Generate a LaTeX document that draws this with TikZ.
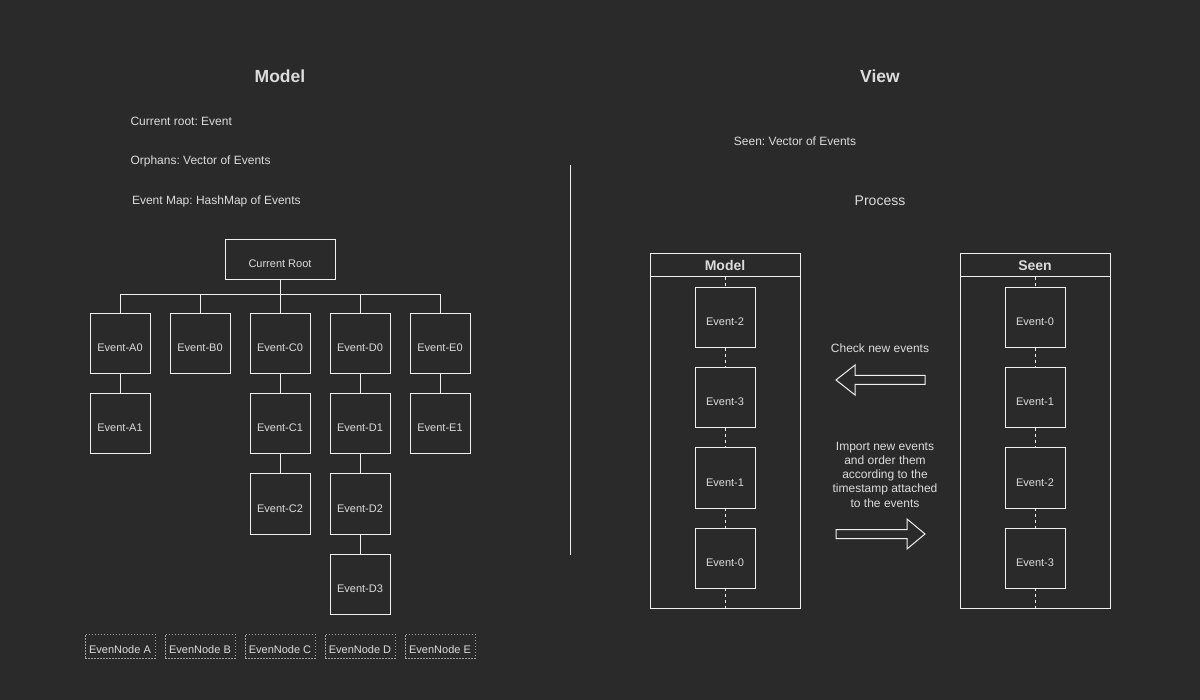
\documentclass[tikz,border=0pt]{standalone}
\usepackage{fontspec}
\setmainfont{Liberation Sans}
\frenchspacing
\usetikzlibrary{positioning}
\definecolor{bgcol}{HTML}{2A2A2A}
\definecolor{txtcol}{HTML}{DCDCDC}
\definecolor{linecol}{HTML}{F0F0F0}
\definecolor{dotcol}{HTML}{A0A0A0}
\begin{document}
\begin{tikzpicture}[
        x=1pt, y=-1pt,
        line width=1pt,
        every node/.style={text=txtcol},
        evt/.style={rectangle, draw=linecol, minimum width=60pt, minimum height=60pt, inner sep=0pt, outer sep=0pt,
            text height=16pt, text depth=0pt, font=\fontsize{11}{13}\selectfont},
        orphan/.style={rectangle, draw=dotcol, dash pattern=on 1.5pt off 1.5pt, minimum width=70pt, minimum height=24pt,
            inner sep=0pt, outer sep=0pt, text height=14pt, text depth=0pt, font=\fontsize{11}{13}\selectfont},
        title/.style={font=\fontsize{17.5}{20}\selectfont\bfseries},
        field/.style={anchor=west, inner sep=0pt, font=\fontsize{12}{14}\selectfont},
        lane/.style={rectangle, draw=linecol, minimum width=150pt, minimum height=354pt, inner sep=0pt, outer sep=0pt},
        lanehead/.style={rectangle, draw=linecol, minimum width=150pt, minimum height=23pt, inner sep=0pt, outer sep=0pt,
            anchor=north, font=\fontsize{14}{16}\selectfont\bfseries},
        link/.style={draw=linecol},
        seq/.style={draw=linecol, dash pattern=on 3pt off 3pt}
    ]
    \fill[bgcol] (0,0) rectangle (1200,700);

    % Titles
    \node [title] (mtitle) at (280,76) {Model};
    \node [title] (vtitle) at (880,76) {View};

    % Model fields
    \node [field] (froot) at (130,121) {Current root: Event};
    \node [field] (forph) at (130,161) {Orphans: Vector of Events};
    \node [field] (fmap) at (131.5,201) {Event Map: HashMap of Events};

    % Tree
    \node [evt, minimum width=110pt, minimum height=40pt] (root) at (280,260) {Current Root};
    \node [evt, below=34pt of root] (c0) {Event-C0};
    \node [evt, left=20pt of c0] (b0) {Event-B0};
    \node [evt, left=20pt of b0] (a0) {Event-A0};
    \node [evt, right=20pt of c0] (d0) {Event-D0};
    \node [evt, right=20pt of d0] (e0) {Event-E0};
    \node [evt, below=20pt of a0] (a1) {Event-A1};
    \node [evt, below=20pt of c0] (c1) {Event-C1};
    \node [evt, below=20pt of c1] (c2) {Event-C2};
    \node [evt, below=20pt of d0] (d1) {Event-D1};
    \node [evt, below=20pt of d1] (d2) {Event-D2};
    \node [evt, below=20pt of d2] (d3) {Event-D3};
    \node [evt, below=20pt of e0] (e1) {Event-E1};
    \coordinate [below=15pt of root.south] (bus);

    % Orphan nodes
    \node [orphan] (ena) at (120,646) {EvenNode A};
    \node [orphan, right=10pt of ena] (enb) {EvenNode B};
    \node [orphan, right=10pt of enb] (enc) {EvenNode C};
    \node [orphan, right=10pt of enc] (end) {EvenNode D};
    \node [orphan, right=10pt of end] (ene) {EvenNode E};

    % Tree connections
    \draw [link] (root.south) -- (bus);
    \foreach \n in {a0,b0,c0,d0,e0}
        \draw [link] (\n.north) |- (bus);
    \draw [link] (a0) -- (a1);
    \draw [link] (c0) -- (c1);
    \draw [link] (c1) -- (c2);
    \draw [link] (d0) -- (d1);
    \draw [link] (d1) -- (d2);
    \draw [link] (d2) -- (d3);
    \draw [link] (e0) -- (e1);

    % Divider
    \coordinate (divtop) at (570,165);
    \coordinate (divbot) at (570,555);
    \draw [link] (divtop) -- (divbot);

    % View
    \node [font=\fontsize{12}{14}\selectfont] (seen) at (795,141) {Seen: Vector of Events};
    \node [font=\fontsize{14}{16}\selectfont] (proc) at (880,201) {Process};

    % Model lane
    \node [lane] (mlane) at (725,431) {};
    \node [lanehead] (mhead) at (mlane.north) {Model};
    \node [evt, below=11pt of mhead] (m2) {Event-2};
    \node [evt, below=20pt of m2] (m3) {Event-3};
    \node [evt, below=20pt of m3] (m1) {Event-1};
    \node [evt, below=20pt of m1] (m0) {Event-0};
    \draw [seq] (mhead) -- (m2);
    \draw [seq] (m2) -- (m3);
    \draw [seq] (m3) -- (m1);
    \draw [seq] (m1) -- (m0);
    \draw [seq] (m0) -- (mlane.south);

    % Seen lane
    \node [lane] (slane) at (1035,431) {};
    \node [lanehead] (shead) at (slane.north) {Seen};
    \node [evt, below=11pt of shead] (s0) {Event-0};
    \node [evt, below=20pt of s0] (s1) {Event-1};
    \node [evt, below=20pt of s1] (s2) {Event-2};
    \node [evt, below=20pt of s2] (s3) {Event-3};
    \draw [seq] (shead) -- (s0);
    \draw [seq] (s0) -- (s1);
    \draw [seq] (s1) -- (s2);
    \draw [seq] (s2) -- (s3);
    \draw [seq] (s3) -- (slane.south);

    % Process arrows
    \node [font=\fontsize{12}{14}\selectfont] (check) at (880,348) {Check new events};
    \draw [link] (925,375.5) -- (855,375.5) -- (855,365) -- (836,380) -- (855,395) -- (855,384.5) -- (925,384.5) -- cycle;
    \node [font=\fontsize{12}{14.25}\selectfont, align=center] (import) at (885,474.5)
        {Import new events\\and order them\\according to the\\timestamp attached\\to the events};
    \draw [link] (836,529.5) -- (907,529.5) -- (907,519) -- (925,534) -- (907,549) -- (907,538.5) -- (836,538.5) -- cycle;
\end{tikzpicture}
\end{document}
